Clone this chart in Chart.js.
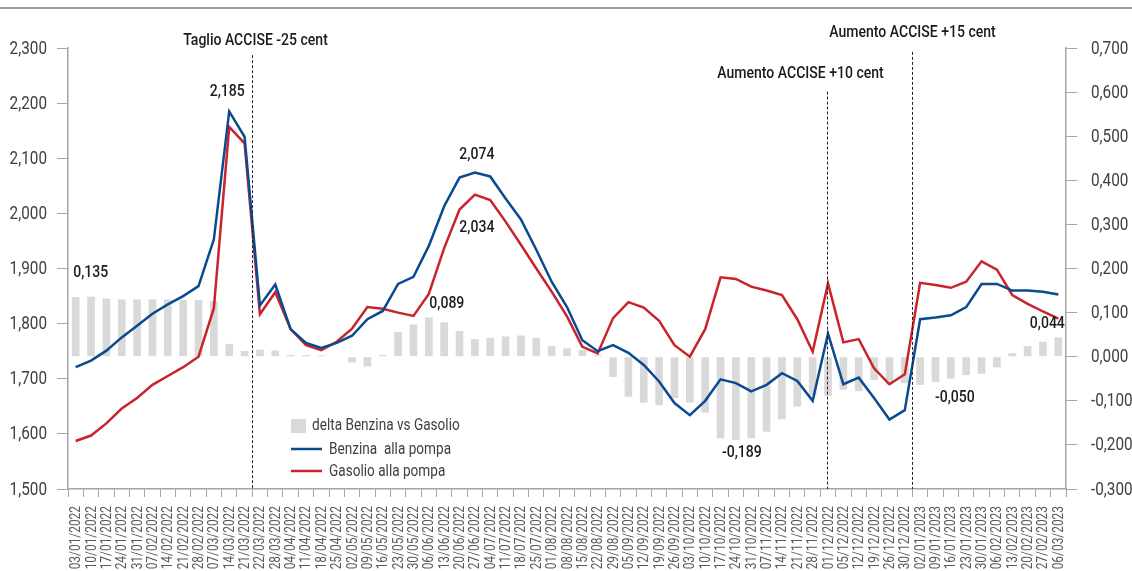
<!DOCTYPE html>
<html>
<head>
<meta charset="utf-8">
<script src="https://cdn.jsdelivr.net/npm/chart.js@4.4.0/dist/chart.umd.min.js"></script>
<style>
  html, body { margin: 0; padding: 0; background: #fff; }
  #wrap { width: 1132px; height: 571px; position: relative; }
</style>
</head>
<body>
<div id="wrap"><canvas id="myChart" width="1132" height="571"></canvas></div>
<script>
// settimane di rilevazione
const categories = [
  '03/01/2022','10/01/2022','17/01/2022','24/01/2022','31/01/2022','07/02/2022','14/02/2022','21/02/2022',
  '28/02/2022','07/03/2022','14/03/2022','21/03/2022','22/03/2022','28/03/2022','04/04/2022','11/04/2022',
  '18/04/2022','25/04/2022','02/05/2022','09/05/2022','16/05/2022','23/05/2022','30/05/2022','06/06/2022',
  '13/06/2022','20/06/2022','27/06/2022','04/07/2022','11/07/2022','18/07/2022','25/07/2022','01/08/2022',
  '08/08/2022','15/08/2022','22/08/2022','29/08/2022','05/09/2022','12/09/2022','19/09/2022','26/09/2022',
  '03/10/2022','10/10/2022','17/10/2022','24/10/2022','31/10/2022','07/11/2022','14/11/2022','21/11/2022',
  '28/11/2022','01/12/2022','05/12/2022','12/12/2022','19/12/2022','26/12/2022','30/12/2022','02/01/2023',
  '09/01/2023','16/01/2023','23/01/2023','30/01/2023','06/02/2023','13/02/2023','20/02/2023','27/02/2023',
  '06/03/2023'
];

const benzina = [
  1.721, 1.733, 1.751, 1.775, 1.796, 1.818, 1.835, 1.850, 1.868, 1.953, 2.185, 2.139, 1.833, 1.871, 1.790, 1.765,
  1.756, 1.765, 1.778, 1.808, 1.823, 1.872, 1.885, 1.941, 2.013, 2.065, 2.074, 2.067, 2.027, 1.989, 1.934, 1.876,
  1.830, 1.770, 1.750, 1.761, 1.747, 1.725, 1.695, 1.656, 1.634, 1.660, 1.699, 1.692, 1.677, 1.689, 1.710, 1.696,
  1.660, 1.782, 1.690, 1.702, 1.665, 1.626, 1.643, 1.808, 1.811, 1.815, 1.830, 1.872, 1.872, 1.860, 1.860, 1.858,
  1.853
];

const gasolio = [
  1.587, 1.597, 1.619, 1.646, 1.665, 1.689, 1.705, 1.721, 1.740, 1.828, 2.157, 2.127, 1.817, 1.857, 1.790, 1.761,
  1.752, 1.767, 1.791, 1.830, 1.827, 1.820, 1.814, 1.854, 1.937, 2.007, 2.034, 2.024, 1.985, 1.943, 1.900, 1.858,
  1.813, 1.758, 1.746, 1.810, 1.839, 1.829, 1.805, 1.761, 1.740, 1.790, 1.884, 1.881, 1.867, 1.860, 1.852, 1.808,
  1.749, 1.873, 1.766, 1.772, 1.719, 1.690, 1.708, 1.874, 1.870, 1.865, 1.876, 1.913, 1.898, 1.852, 1.836, 1.822,
  1.809
];

const delta = [
  0.135, 0.136, 0.132, 0.130, 0.130, 0.130, 0.130, 0.129, 0.129, 0.126, 0.029, 0.013, 0.016, 0.014, 0.004, 0.004,
  0.003, -0.001, -0.013, -0.022, 0.004, 0.056, 0.073, 0.089, 0.078, 0.058, 0.040, 0.043, 0.046, 0.048, 0.043, 0.024,
  0.019, 0.015, 0.004, -0.046, -0.091, -0.104, -0.110, -0.094, -0.104, -0.127, -0.185, -0.189, -0.185, -0.170, -0.142, -0.113,
  -0.088, -0.089, -0.075, -0.078, -0.053, -0.063, -0.060, -0.064, -0.057, -0.050, -0.042, -0.039, -0.024, 0.008, 0.024, 0.034,
  0.044
];

const leftTicks = [1.5, 1.6, 1.7, 1.8, 1.9, 2.0, 2.1, 2.2, 2.3];
const rightTicks = [-0.3, -0.2, -0.1, 0, 0.1, 0.2, 0.3, 0.4, 0.5, 0.6, 0.7];

// etichette sui valori: serie, indice, spostamento in px
const valueLabels = [
  { series: delta, axis: 'y2', i: 0, dx: 15, dy: -24 },
  { series: benzina, axis: 'y', i: 10, dx: -2, dy: -20 },
  { series: benzina, axis: 'y', i: 26, dx: 2, dy: -18 },
  { series: gasolio, axis: 'y', i: 26, dx: 2, dy: 33 },
  { series: delta, axis: 'y2', i: 23, dx: 18, dy: -14 },
  { series: delta, axis: 'y2', i: 43, dx: 6, dy: 13 },
  { series: delta, axis: 'y2', i: 57, dx: 4, dy: 19 },
  { series: delta, axis: 'y2', i: 64, dx: -11, dy: -13 }
];

// interventi sulle accise: posizione (indice), cima della linea (valore asse sx)
const acciseEvents = [
  { text: 'Taglio ACCISE -25 cent', at: 11.5, top: 2.287, tdx: 3, tdy: -14 },
  { text: 'Aumento ACCISE +10 cent', at: 48.93, top: 2.221, tdx: -27, tdy: -18 },
  { text: 'Aumento ACCISE +15 cent', at: 54.5, top: 2.293, tdx: 0, tdy: -19 }
];

const FONT = "Roboto, 'Open Sans', sans-serif";
const NARROW = 0.85; // Roboto stretto, simile al Condensed
const BLUE = '#0a4a8f';
const RED = '#c9232c';
const GREY_BAR = '#d9d9d9';
const AXIS = '#a6a6a6';

function fmt(v) {
  return v.toFixed(3).replace('.', ',');
}

function narrowText(ctx, text, x, y, rot) {
  ctx.save();
  ctx.translate(x, y);
  if (rot) ctx.rotate(rot);
  ctx.scale(NARROW, 1);
  ctx.fillText(text, 0, 0);
  ctx.restore();
}

const overlay = {
  id: 'overlay',
  afterDraw(chart) {
    const { ctx, scales, chartArea } = chart;
    const x = scales.x;
    ctx.save();

    // riga grigia in alto
    ctx.fillStyle = '#9a9a9a';
    ctx.fillRect(0, 7, chart.width, 2);

    // etichette assi
    ctx.textBaseline = 'middle';
    ctx.font = '18px ' + FONT;
    ctx.fillStyle = '#404040';
    ctx.textAlign = 'right';
    scales.y.ticks.forEach(t => {
      narrowText(ctx, fmt(t.value), chartArea.left - 21, scales.y.getPixelForValue(t.value) + 1);
    });
    ctx.textAlign = 'left';
    scales.y2.ticks.forEach(t => {
      narrowText(ctx, fmt(t.value), chartArea.right + 25, scales.y2.getPixelForValue(t.value) + 1);
    });
    ctx.font = '14px ' + FONT;
    ctx.fillStyle = '#595959';
    ctx.textAlign = 'right';
    categories.forEach((c, i) => {
      narrowText(ctx, c, x.getPixelForValue(i) + 1, chartArea.bottom + 17, -Math.PI / 2);
    });

    // linee tratteggiate accise
    const bottom = chartArea.bottom;
    ctx.font = '500 16.5px ' + FONT;
    ctx.fillStyle = '#1a1a1a';
    ctx.textAlign = 'center';
    acciseEvents.forEach(e => {
      const px = Math.round(x.getPixelForValue(e.at)) + 0.5;
      const top = scales.y.getPixelForValue(e.top);
      ctx.strokeStyle = '#222';
      ctx.lineWidth = 1;
      ctx.setLineDash([3, 2]);
      ctx.beginPath();
      ctx.moveTo(px, top);
      ctx.lineTo(px, bottom);
      ctx.stroke();
      ctx.setLineDash([]);
      narrowText(ctx, e.text, px + e.tdx, top + e.tdy);
    });

    // etichette valori
    ctx.font = '500 16.5px ' + FONT;
    valueLabels.forEach(l => {
      const v = l.series[l.i];
      const px = x.getPixelForValue(l.i) + l.dx;
      const py = scales[l.axis].getPixelForValue(v) + l.dy;
      narrowText(ctx, fmt(v), px, py);
    });

    // legenda
    const lx = 291, ly = 426;
    ctx.textAlign = 'left';
    ctx.font = '16px ' + FONT;
    ctx.fillStyle = GREY_BAR;
    ctx.fillRect(lx, ly - 7, 15, 14);
    ctx.fillStyle = '#404040';
    narrowText(ctx, chart.data.datasets[0].label, lx + 21, ly);
    [[BLUE, 1, 449], [RED, 2, 471]].forEach(([c, d, y]) => {
      ctx.strokeStyle = c;
      ctx.lineWidth = 2.5;
      ctx.beginPath();
      ctx.moveTo(lx, y);
      ctx.lineTo(lx + 31, y);
      ctx.stroke();
      ctx.fillStyle = '#404040';
      narrowText(ctx, chart.data.datasets[d].label, lx + 38, y + 1);
    });
    ctx.restore();
  }
};

let ctx = document.getElementById('myChart');

let myChart = new Chart(ctx, {
  data: {
    labels: categories,
    datasets: [{
      label: 'delta Benzina vs Gasolio',
      type: 'bar',
      yAxisID: 'y2',
      data: delta,
      backgroundColor: GREY_BAR,
      barPercentage: 0.5,
      categoryPercentage: 1,
      order: 3
    }, {
      label: 'Benzina  alla pompa',
      type: 'line',
      yAxisID: 'y',
      data: benzina,
      borderColor: BLUE,
      borderWidth: 2.5,
      pointRadius: 0,
      tension: 0,
      order: 1
    }, {
      label: 'Gasolio alla pompa',
      type: 'line',
      yAxisID: 'y',
      data: gasolio,
      borderColor: RED,
      borderWidth: 2.5,
      pointRadius: 0,
      tension: 0,
      order: 2
    }]
  },
  options: {
    responsive: false,
    animation: false,
    layout: { padding: { top: 48, left: 0, right: 0, bottom: 0 } },
    plugins: {
      legend: { display: false },
      tooltip: { enabled: false }
    },
    scales: {
      x: {
        offset: true,
        grid: {
          offset: true,
          drawOnChartArea: false,
          color: AXIS,
          tickLength: 8
        },
        border: { color: AXIS, width: 1.5 },
        ticks: { display: false, autoSkip: false },
        afterFit(scale) { scale.height = 82; }
      },
      y: {
        type: 'linear',
        position: 'left',
        min: leftTicks[0],
        max: leftTicks[leftTicks.length - 1],
        afterBuildTicks(scale) { scale.ticks = leftTicks.map(v => ({ value: v })); },
        grid: { drawOnChartArea: false, color: AXIS, tickLength: 11 },
        border: { color: AXIS, width: 1.5 },
        ticks: { display: false },
        afterFit(scale) { scale.width = 68; }
      },
      y2: {
        type: 'linear',
        position: 'right',
        min: rightTicks[0],
        max: rightTicks[rightTicks.length - 1],
        afterBuildTicks(scale) { scale.ticks = rightTicks.map(v => ({ value: v })); },
        grid: { drawOnChartArea: false, color: AXIS, tickLength: 11 },
        border: { color: AXIS, width: 1.5 },
        ticks: { display: false },
        afterFit(scale) { scale.width = 66; }
      }
    }
  },
  plugins: [overlay]
});
</script>
</body>
</html>
